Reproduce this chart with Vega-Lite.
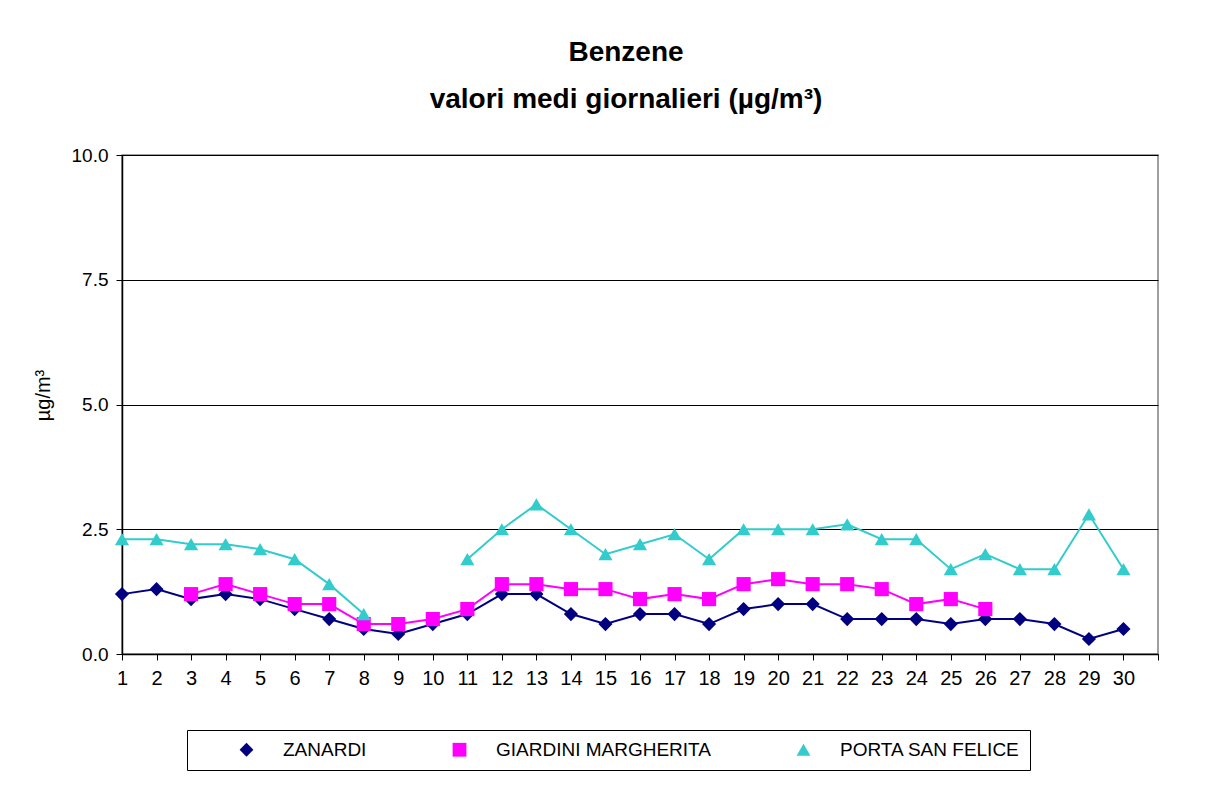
{
  "$schema": "https://vega.github.io/schema/vega-lite/v6.json",
  "autosize": "none",
  "width": 1036,
  "height": 499,
  "padding": {"left": 122, "top": 155, "right": 50, "bottom": 131},
  "background": "white",
  "config": {"font": "Liberation Sans", "view": {"stroke": "#808080", "strokeWidth": 1.5}},
  "title": {
    "text": ["Benzene", "valori medi giornalieri (µg/m³)"],
    "fontSize": 28, "fontWeight": "bold", "color": "black",
    "anchor": "middle", "frame": "group", "dx": -14,
    "lineHeight": 47, "baseline": "bottom", "offset": 4
  },
  "data": {"values": [
    {"day": 1, "series": "ZANARDI", "value": 1.2},
    {"day": 2, "series": "ZANARDI", "value": 1.3},
    {"day": 3, "series": "ZANARDI", "value": 1.1},
    {"day": 4, "series": "ZANARDI", "value": 1.2},
    {"day": 5, "series": "ZANARDI", "value": 1.1},
    {"day": 6, "series": "ZANARDI", "value": 0.9},
    {"day": 7, "series": "ZANARDI", "value": 0.7},
    {"day": 8, "series": "ZANARDI", "value": 0.5},
    {"day": 9, "series": "ZANARDI", "value": 0.4},
    {"day": 10, "series": "ZANARDI", "value": 0.6},
    {"day": 11, "series": "ZANARDI", "value": 0.8},
    {"day": 12, "series": "ZANARDI", "value": 1.2},
    {"day": 13, "series": "ZANARDI", "value": 1.2},
    {"day": 14, "series": "ZANARDI", "value": 0.8},
    {"day": 15, "series": "ZANARDI", "value": 0.6},
    {"day": 16, "series": "ZANARDI", "value": 0.8},
    {"day": 17, "series": "ZANARDI", "value": 0.8},
    {"day": 18, "series": "ZANARDI", "value": 0.6},
    {"day": 19, "series": "ZANARDI", "value": 0.9},
    {"day": 20, "series": "ZANARDI", "value": 1.0},
    {"day": 21, "series": "ZANARDI", "value": 1.0},
    {"day": 22, "series": "ZANARDI", "value": 0.7},
    {"day": 23, "series": "ZANARDI", "value": 0.7},
    {"day": 24, "series": "ZANARDI", "value": 0.7},
    {"day": 25, "series": "ZANARDI", "value": 0.6},
    {"day": 26, "series": "ZANARDI", "value": 0.7},
    {"day": 27, "series": "ZANARDI", "value": 0.7},
    {"day": 28, "series": "ZANARDI", "value": 0.6},
    {"day": 29, "series": "ZANARDI", "value": 0.3},
    {"day": 30, "series": "ZANARDI", "value": 0.5},
    {"day": 1, "series": "GIARDINI MARGHERITA", "value": null},
    {"day": 2, "series": "GIARDINI MARGHERITA", "value": null},
    {"day": 3, "series": "GIARDINI MARGHERITA", "value": 1.2},
    {"day": 4, "series": "GIARDINI MARGHERITA", "value": 1.4},
    {"day": 5, "series": "GIARDINI MARGHERITA", "value": 1.2},
    {"day": 6, "series": "GIARDINI MARGHERITA", "value": 1.0},
    {"day": 7, "series": "GIARDINI MARGHERITA", "value": 1.0},
    {"day": 8, "series": "GIARDINI MARGHERITA", "value": 0.6},
    {"day": 9, "series": "GIARDINI MARGHERITA", "value": 0.6},
    {"day": 10, "series": "GIARDINI MARGHERITA", "value": 0.7},
    {"day": 11, "series": "GIARDINI MARGHERITA", "value": 0.9},
    {"day": 12, "series": "GIARDINI MARGHERITA", "value": 1.4},
    {"day": 13, "series": "GIARDINI MARGHERITA", "value": 1.4},
    {"day": 14, "series": "GIARDINI MARGHERITA", "value": 1.3},
    {"day": 15, "series": "GIARDINI MARGHERITA", "value": 1.3},
    {"day": 16, "series": "GIARDINI MARGHERITA", "value": 1.1},
    {"day": 17, "series": "GIARDINI MARGHERITA", "value": 1.2},
    {"day": 18, "series": "GIARDINI MARGHERITA", "value": 1.1},
    {"day": 19, "series": "GIARDINI MARGHERITA", "value": 1.4},
    {"day": 20, "series": "GIARDINI MARGHERITA", "value": 1.5},
    {"day": 21, "series": "GIARDINI MARGHERITA", "value": 1.4},
    {"day": 22, "series": "GIARDINI MARGHERITA", "value": 1.4},
    {"day": 23, "series": "GIARDINI MARGHERITA", "value": 1.3},
    {"day": 24, "series": "GIARDINI MARGHERITA", "value": 1.0},
    {"day": 25, "series": "GIARDINI MARGHERITA", "value": 1.1},
    {"day": 26, "series": "GIARDINI MARGHERITA", "value": 0.9},
    {"day": 27, "series": "GIARDINI MARGHERITA", "value": null},
    {"day": 28, "series": "GIARDINI MARGHERITA", "value": null},
    {"day": 29, "series": "GIARDINI MARGHERITA", "value": null},
    {"day": 30, "series": "GIARDINI MARGHERITA", "value": null},
    {"day": 1, "series": "PORTA SAN FELICE", "value": 2.3},
    {"day": 2, "series": "PORTA SAN FELICE", "value": 2.3},
    {"day": 3, "series": "PORTA SAN FELICE", "value": 2.2},
    {"day": 4, "series": "PORTA SAN FELICE", "value": 2.2},
    {"day": 5, "series": "PORTA SAN FELICE", "value": 2.1},
    {"day": 6, "series": "PORTA SAN FELICE", "value": 1.9},
    {"day": 7, "series": "PORTA SAN FELICE", "value": 1.4},
    {"day": 8, "series": "PORTA SAN FELICE", "value": 0.8},
    {"day": 9, "series": "PORTA SAN FELICE", "value": null},
    {"day": 10, "series": "PORTA SAN FELICE", "value": null},
    {"day": 11, "series": "PORTA SAN FELICE", "value": 1.9},
    {"day": 12, "series": "PORTA SAN FELICE", "value": 2.5},
    {"day": 13, "series": "PORTA SAN FELICE", "value": 3.0},
    {"day": 14, "series": "PORTA SAN FELICE", "value": 2.5},
    {"day": 15, "series": "PORTA SAN FELICE", "value": 2.0},
    {"day": 16, "series": "PORTA SAN FELICE", "value": 2.2},
    {"day": 17, "series": "PORTA SAN FELICE", "value": 2.4},
    {"day": 18, "series": "PORTA SAN FELICE", "value": 1.9},
    {"day": 19, "series": "PORTA SAN FELICE", "value": 2.5},
    {"day": 20, "series": "PORTA SAN FELICE", "value": 2.5},
    {"day": 21, "series": "PORTA SAN FELICE", "value": 2.5},
    {"day": 22, "series": "PORTA SAN FELICE", "value": 2.6},
    {"day": 23, "series": "PORTA SAN FELICE", "value": 2.3},
    {"day": 24, "series": "PORTA SAN FELICE", "value": 2.3},
    {"day": 25, "series": "PORTA SAN FELICE", "value": 1.7},
    {"day": 26, "series": "PORTA SAN FELICE", "value": 2.0},
    {"day": 27, "series": "PORTA SAN FELICE", "value": 1.7},
    {"day": 28, "series": "PORTA SAN FELICE", "value": 1.7},
    {"day": 29, "series": "PORTA SAN FELICE", "value": 2.8},
    {"day": 30, "series": "PORTA SAN FELICE", "value": 1.7}
  ]},
  "encoding": {
    "x": {
      "field": "day", "type": "quantitative",
      "scale": {"domain": [1, 31], "nice": false, "zero": false},
      "axis": {
        "title": null,
        "values": [1,2,3,4,5,6,7,8,9,10,11,12,13,14,15,16,17,18,19,20,21,22,23,24,25,26,27,28,29,30,31],
        "labelExpr": "datum.value == 31 ? '' : datum.label",
        "grid": false, "domainColor": "black", "domainWidth": 1.5,
        "tickColor": "black", "tickSize": 6, "tickWidth": 1,
        "labelFontSize": 20, "labelColor": "black", "labelPadding": 8,
        "labelFlush": false, "labelOverlap": false
      }
    },
    "y": {
      "field": "value", "type": "quantitative",
      "scale": {"domain": [0, 10], "nice": false},
      "axis": {
        "title": "µg/m³", "values": [0, 2.5, 5, 7.5, 10], "format": ".1f",
        "grid": true, "gridColor": "black", "gridWidth": 1,
        "domainColor": "black", "domainWidth": 1.5,
        "tickColor": "black", "tickSize": 6,
        "labelFontSize": 19, "labelColor": "black", "labelPadding": 8,
        "titleFontSize": 20, "titleFontWeight": "normal", "titleColor": "black",
        "titleAngle": 270, "titleX": -79, "titleY": 240,
        "titleAlign": "center", "titleBaseline": "middle"
      }
    }
  },
  "layer": [
    {
      "transform": [{"filter": "datum.series === 'ZANARDI'"}],
      "mark": {"type": "line", "strokeWidth": 2, "color": "#000080", "invalid": "break-paths-filter-domains"}
    },
    {
      "transform": [{"filter": "datum.series === 'GIARDINI MARGHERITA'"}],
      "mark": {"type": "line", "strokeWidth": 2, "color": "#FF00FF", "invalid": "break-paths-filter-domains"}
    },
    {
      "transform": [{"filter": "datum.series === 'PORTA SAN FELICE'"}],
      "mark": {"type": "line", "strokeWidth": 2, "color": "#33CCCC", "invalid": "break-paths-filter-domains"}
    },
    {
      "mark": {"type": "point", "filled": true, "opacity": 1, "size": 200},
      "encoding": {
        "color": {
          "field": "series", "type": "nominal",
          "scale": {"domain": ["ZANARDI", "GIARDINI MARGHERITA", "PORTA SAN FELICE"], "range": ["#000080", "#FF00FF", "#33CCCC"]},
          "legend": {
            "title": " ", "titleOrient": "left", "titlePadding": 40, "titleFontSize": 19,
            "orient": "none", "legendX": 65, "legendY": 575,
            "direction": "horizontal", "columns": 3,
            "padding": 10, "strokeColor": "black", "fillColor": "white", "cornerRadius": 0,
            "symbolSize": 190, "symbolOpacity": 1,
            "labelFontSize": 19, "labelColor": "black", "labelOffset": 27, "labelLimit": 0,
            "columnPadding": 82
          }
        },
        "shape": {
          "field": "series", "type": "nominal",
          "scale": {"domain": ["ZANARDI", "GIARDINI MARGHERITA", "PORTA SAN FELICE"], "range": ["diamond", "square", "triangle-up"]},
          "legend": {
            "title": " ", "titleOrient": "left", "titlePadding": 40, "titleFontSize": 19,
            "orient": "none", "legendX": 65, "legendY": 575,
            "direction": "horizontal", "columns": 3,
            "padding": 10, "strokeColor": "black", "fillColor": "white", "cornerRadius": 0,
            "symbolSize": 190, "symbolOpacity": 1,
            "labelFontSize": 19, "labelColor": "black", "labelOffset": 27, "labelLimit": 0,
            "columnPadding": 82
          }
        }
      }
    }
  ]
}
